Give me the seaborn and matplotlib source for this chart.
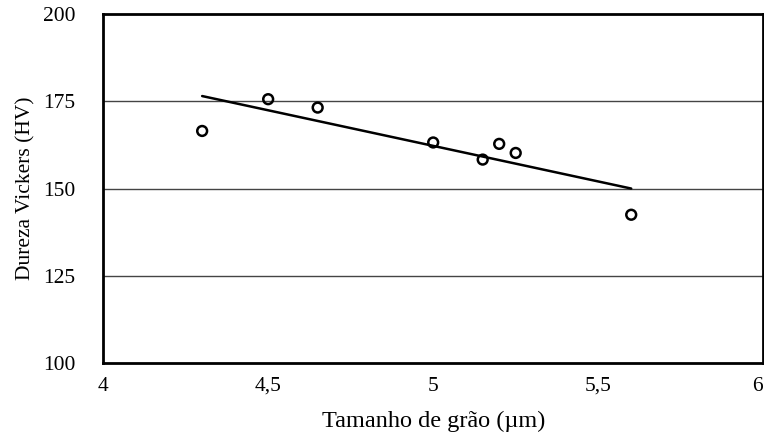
import matplotlib
matplotlib.use("Agg")
import matplotlib.pyplot as plt
import seaborn as sns
import pandas as pd

# Grain size vs. Vickers hardness measurements
grain_size = [4.3, 4.5, 4.65, 5.0, 5.15, 5.2, 5.25, 5.6]
hardness = [166.5, 175.6, 173.2, 163.2, 158.3, 162.8, 160.2, 142.5]

# Fitted trend line end points
fit_x = [4.3, 5.6]
fit_y = [176.5, 150.0]

x_ticks = [4, 4.5, 5, 5.5, 6]
x_tick_labels = ["4", "4,5", "5", "5,5", "6"]
y_ticks = [100, 125, 150, 175, 200]

sns.set_theme(style="white")
plt.rcParams["font.family"] = ["Liberation Serif", "DejaVu Serif"]

fig = plt.figure(figsize=(7.64, 4.38), dpi=100)
ax = fig.add_axes([0.135, 0.171, 0.864, 0.797])

df = pd.DataFrame({"x": grain_size, "y": hardness})
fit = pd.DataFrame({"x": fit_x, "y": fit_y})

for yv in y_ticks[1:-1]:
    ax.axhline(yv, color="#444444", lw=1.0, zorder=1)

sns.lineplot(data=fit, x="x", y="y", ax=ax, color="black", lw=1.8, zorder=3)
sns.scatterplot(data=df, x="x", y="y", ax=ax, marker="o", s=50,
                facecolor="none", edgecolor="black", linewidth=1.8, zorder=4)

ax.set_xlim(4, 6)
ax.set_ylim(100, 200)
ax.set_xticks(x_ticks)
ax.set_xticklabels(x_tick_labels)
ax.set_yticks(y_ticks)

ax.tick_params(axis="x", direction="in", length=5, width=1.2, color="black",
               labelsize=15.5, pad=10)
ax.tick_params(axis="y", length=0, labelsize=15.5, pad=20)

# keep the last x label inside the figure
ax.get_xticklabels()[-1].set_horizontalalignment("right")

for s in ax.spines.values():
    s.set_visible(True)
    s.set_color("black")
    s.set_linewidth(2.0)

ax.set_xlabel("Tamanho de grão (µm)", fontsize=17.5, labelpad=11, color="black")
ax.set_ylabel("Dureza Vickers (HV)", fontsize=15.5, labelpad=5, color="black")
for lbl in ax.get_xticklabels() + ax.get_yticklabels():
    lbl.set_color("black")

fig.savefig("out.png", dpi=100)
